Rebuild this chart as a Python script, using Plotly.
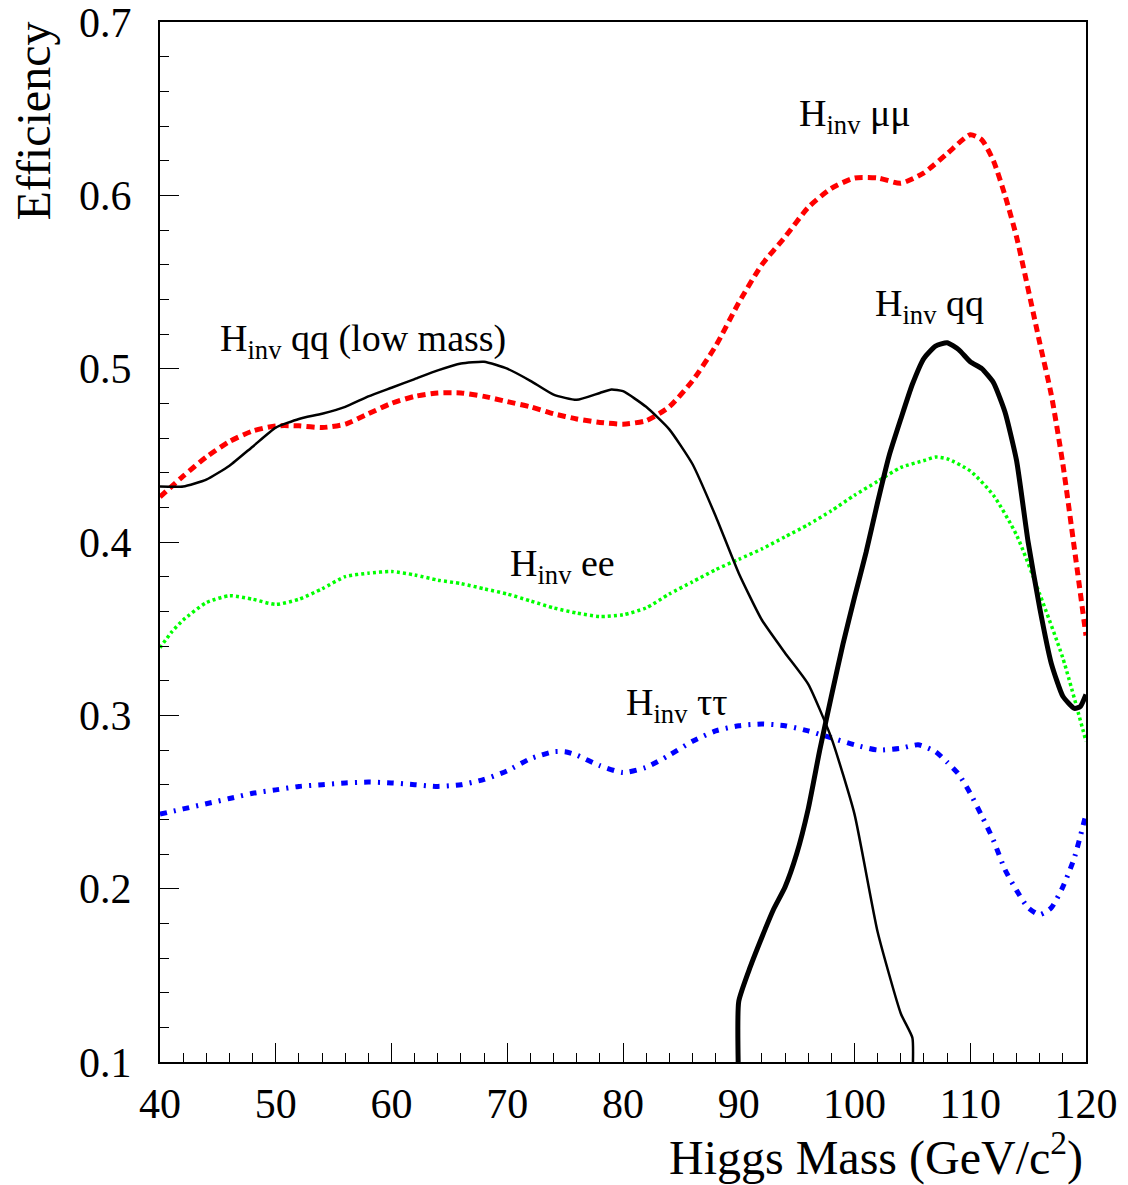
import plotly.graph_objects as go

# ---- data ----
qq_low_mass = [40, 42, 44, 46, 48, 50, 52, 54, 56, 58, 60, 62, 64, 66, 68, 70, 72, 74, 76, 78, 79, 80,
               82, 84, 86, 88, 90, 92, 94, 96, 98, 100, 102, 104, 105, 105.05]
qq_low_eff = [0.432, 0.432, 0.436, 0.444, 0.455, 0.466, 0.471, 0.474, 0.478, 0.484, 0.489, 0.494, 0.499,
              0.503, 0.504, 0.500, 0.493, 0.485, 0.482, 0.486, 0.488, 0.487,
              0.478, 0.465, 0.445, 0.415, 0.382, 0.355, 0.336, 0.318, 0.287, 0.243, 0.175, 0.128, 0.114, 0.100]

mumu_mass = [40, 42, 44, 46, 48, 50, 52, 54, 56, 58, 60, 62, 64, 66, 68, 70, 72, 74, 76, 78, 80, 82, 84,
             86, 88, 90, 92, 94, 96, 98, 100, 102, 104, 106, 108, 110, 111, 112, 113, 114, 116, 117,
             118, 119, 120]
mumu_eff = [0.426, 0.438, 0.449, 0.458, 0.464, 0.467, 0.467, 0.466, 0.468, 0.474, 0.480, 0.484, 0.486,
            0.486, 0.484, 0.481, 0.478, 0.474, 0.471, 0.469, 0.468, 0.470, 0.478, 0.493, 0.513, 0.538,
            0.560, 0.576, 0.593, 0.604, 0.610, 0.610, 0.607, 0.613, 0.624, 0.635, 0.632, 0.620, 0.600,
            0.576, 0.515, 0.485, 0.445, 0.396, 0.346]

ee_mass = [40, 41, 42, 44, 46, 48, 50, 52, 54, 56, 58, 60, 62, 64, 66, 68, 70, 72, 74, 76, 78, 80, 82, 84,
           86, 88, 90, 92, 94, 96, 98, 100, 102, 104, 106, 107, 108, 110, 112, 114, 116, 118, 120]
ee_eff = [0.339, 0.348, 0.355, 0.365, 0.369, 0.367, 0.364, 0.367, 0.373, 0.380, 0.382, 0.383, 0.381,
          0.378, 0.376, 0.373, 0.370, 0.366, 0.362, 0.359, 0.357, 0.358, 0.362, 0.370, 0.377, 0.384,
          0.390, 0.396, 0.403, 0.410, 0.418, 0.427, 0.435, 0.443, 0.447, 0.449, 0.448, 0.441, 0.427,
          0.404, 0.370, 0.333, 0.285]

tautau_mass = [40, 42, 44, 46, 48, 50, 52, 54, 56, 58, 60, 62, 64, 66, 68, 70, 72, 74, 75, 76, 78, 80,
               82, 84, 86, 88, 90, 92, 94, 96, 98, 100, 102, 104, 105.5, 107, 108, 109, 110, 111, 112,
               113, 114, 115, 116, 117, 118, 119, 120]
tautau_eff = [0.243, 0.246, 0.249, 0.252, 0.255, 0.257, 0.259, 0.260, 0.261, 0.2615, 0.261, 0.260,
              0.259, 0.260, 0.263, 0.268, 0.275, 0.279, 0.279, 0.277, 0.271, 0.267, 0.270, 0.277, 0.285,
              0.291, 0.294, 0.295, 0.294, 0.291, 0.287, 0.283, 0.280, 0.281, 0.283, 0.279, 0.273, 0.266,
              0.255, 0.242, 0.228, 0.211, 0.199, 0.189, 0.185, 0.189, 0.201, 0.218, 0.243]

qq_mass = [89.95, 90.0, 91, 92, 93, 94, 95, 96, 97, 98, 99, 100, 101, 102, 103, 104, 105, 106, 107, 108,
           109, 110, 111, 112, 113, 114, 115, 116, 117, 118, 119, 119.5, 120]
qq_eff = [0.100, 0.135, 0.155, 0.172, 0.188, 0.201, 0.220, 0.246, 0.280, 0.311, 0.341, 0.368, 0.394,
          0.423, 0.450, 0.471, 0.491, 0.506, 0.513, 0.515, 0.511, 0.504, 0.500, 0.492, 0.475, 0.447,
          0.400, 0.362, 0.330, 0.311, 0.304, 0.305, 0.312]

x_ticks = [40, 50, 60, 70, 80, 90, 100, 110, 120]
y_ticks = [0.1, 0.2, 0.3, 0.4, 0.5, 0.6, 0.7]

FONT = "Liberation Serif, Times New Roman, serif"

fig = go.Figure()
fig.add_trace(go.Scatter(x=mumu_mass, y=mumu_eff, mode="lines",
                         line=dict(color="#ff0000", width=5, dash="8px,5px", shape="spline", smoothing=0.6)))
fig.add_trace(go.Scatter(x=ee_mass, y=ee_eff, mode="lines",
                         line=dict(color="#00ff00", width=3.5, dash="3px,3px", shape="spline", smoothing=0.6)))
fig.add_trace(go.Scatter(x=tautau_mass, y=tautau_eff, mode="lines",
                         line=dict(color="#0000ff", width=5, dash="7px,7px,2px,7px", shape="spline", smoothing=0.6)))
fig.add_trace(go.Scatter(x=qq_low_mass, y=qq_low_eff, mode="lines",
                         line=dict(color="black", width=2.5, shape="spline", smoothing=0.5)))
fig.add_trace(go.Scatter(x=qq_mass, y=qq_eff, mode="lines",
                         line=dict(color="black", width=5, shape="spline", smoothing=0.5)))

labels = [
    ("H<sub>inv</sub> qq (low mass)", 45.0, 0.516),
    ("H<sub>inv</sub> μμ", 95.0, 0.646),
    ("H<sub>inv</sub> qq", 101.6, 0.536),
    ("H<sub>inv</sub> ee", 70.1, 0.386),
    ("H<sub>inv</sub> ττ", 80.1, 0.306),
]
for txt, lx, ly in labels:
    fig.add_annotation(x=lx, y=ly, text=txt, showarrow=False, xanchor="left", yanchor="middle",
                       font=dict(family=FONT, size=38, color="black"))

fig.add_annotation(xref="paper", yref="paper", x=0.999, y=-0.089, text="Higgs Mass (GeV/c<sup>2</sup>)",
                   showarrow=False, xanchor="right", yanchor="middle",
                   font=dict(family=FONT, size=48, color="black"))
fig.add_annotation(xref="paper", yref="paper", x=-0.137, y=1.002, text="Efficiency", textangle=-90,
                   showarrow=False, xanchor="center", yanchor="top",
                   font=dict(family=FONT, size=48, color="black"))

axis_common = dict(showline=True, linecolor="black", linewidth=2, mirror=True, showgrid=False,
                   zeroline=False, ticks="inside", ticklen=19, tickwidth=1, tickcolor="black",
                   automargin=False, ticklabeloverflow="allow",
                   tickfont=dict(family=FONT, size=42, color="black"))
fig.update_xaxes(range=[40, 120], tickvals=x_ticks, ticktext=[str(v) for v in x_ticks],
                 minor=dict(ticks="inside", ticklen=9, dtick=2, tickcolor="black", tickwidth=1),
                 ticklabelstandoff=4, **axis_common)
fig.update_yaxes(range=[0.1, 0.7], tickvals=y_ticks, ticktext=[f"{v:.1f}" for v in y_ticks],
                 minor=dict(ticks="inside", ticklen=9, dtick=0.02, tickcolor="black", tickwidth=1),
                 ticklabelstandoff=18, **axis_common)

fig.update_layout(width=1120, height=1177, showlegend=False,
                  margin=dict(l=152, r=42, t=14, b=123, autoexpand=False),
                  plot_bgcolor="white", paper_bgcolor="white",
                  font=dict(family=FONT, color="black"))

fig.write_html("out.html")
